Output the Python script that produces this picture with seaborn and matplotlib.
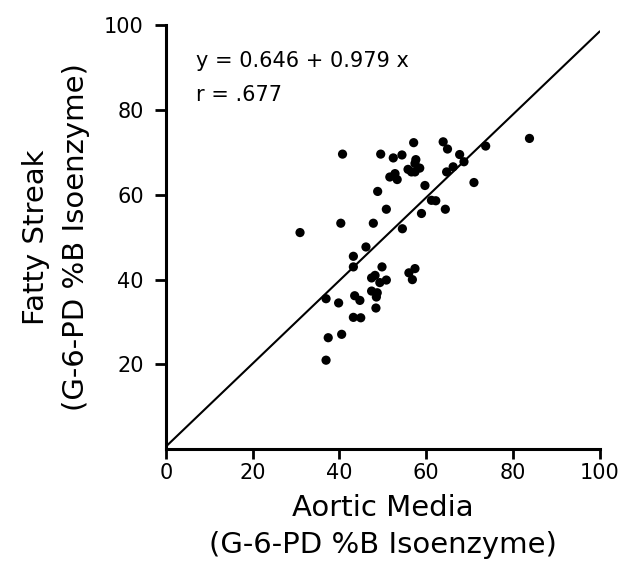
import numpy as np
import pandas as pd
import seaborn as sns
import matplotlib
matplotlib.use("Agg")
import matplotlib.pyplot as plt

# aortic media (x) vs fatty streak (y), % B isoenzyme
media = [40.7, 49.5, 52.4, 54.4, 57.1, 63.9, 64.9, 67.7, 73.7, 68.7,
         66.2, 64.7, 57.6, 57.4, 58.5, 56.6, 57.4, 55.8, 52.8, 51.6,
         53.3, 71.0, 59.7, 48.8, 61.2, 62.2, 50.8, 58.9, 64.4, 40.3,
         47.8, 54.5, 30.9, 46.1, 43.2, 43.2, 49.8, 48.2, 47.4, 50.8,
         49.3, 57.4, 56.0, 56.8, 36.9, 39.8, 43.5, 44.7, 47.4, 48.7,
         48.5, 48.4, 43.2, 44.9, 37.4, 40.5, 36.9, 83.8]
streak = [69.6, 69.6, 68.7, 69.4, 72.3, 72.5, 70.8, 69.5, 71.5, 67.8,
          66.6, 65.4, 68.3, 67.4, 66.3, 65.4, 65.4, 66.0, 65.0, 64.2,
          63.6, 62.9, 62.2, 60.8, 58.7, 58.6, 56.6, 55.6, 56.6, 53.3,
          53.3, 52.0, 51.1, 47.7, 45.5, 43.0, 43.0, 41.0, 40.4, 39.9,
          39.3, 42.6, 41.6, 40.0, 35.5, 34.5, 36.2, 35.1, 37.3, 36.9,
          35.9, 33.3, 31.1, 31.0, 26.3, 27.1, 21.0, 73.3]
intercept = 0.646
slope = 0.979

df = pd.DataFrame({"media": media, "streak": streak})
fit_x = np.array([0, 100])
fit = pd.DataFrame({"x": fit_x, "y": intercept + slope * fit_x})

sns.set_style("ticks")
plt.rcParams["font.family"] = ["DejaVu Sans"]
plt.rcParams["text.color"] = "black"
plt.rcParams["axes.labelcolor"] = "black"

fig = plt.figure(figsize=(6.36, 5.73), dpi=100)
ax = fig.add_axes([0.261, 0.216, 0.682, 0.740])

sns.lineplot(data=fit, x="x", y="y", color="black", linewidth=1.5, ax=ax)
sns.scatterplot(data=df, x="media", y="streak", color="black", s=44,
                edgecolor="none", ax=ax)

ax.set_xlim(0, 100)
ax.set_ylim(0, 100)
ax.set_xticks([0, 20, 40, 60, 80, 100])
ax.set_yticks([20, 40, 60, 80, 100])
ax.tick_params(labelsize=15, width=2, length=7, color="black",
               labelcolor="black")
ax.tick_params(axis="y", length=8, pad=8)
ax.tick_params(axis="x", pad=3)
for s in ["left", "bottom"]:
    ax.spines[s].set_linewidth(2.2)
    ax.spines[s].set_color("black")
sns.despine(ax=ax)

ax.set_xlabel("Aortic Media\n(G-6-PD %B Isoenzyme)", fontsize=21,
              labelpad=8, linespacing=1.4, color="black")
ax.set_ylabel("Fatty Streak\n(G-6-PD %B Isoenzyme)", fontsize=21,
              labelpad=10, linespacing=1.55, color="black")

ax.text(7, 91.5, "y = 0.646 + 0.979 x", fontsize=15, va="center")
ax.text(7, 83.5, "r = .677", fontsize=15, va="center")

fig.savefig("out.png", dpi=100)
